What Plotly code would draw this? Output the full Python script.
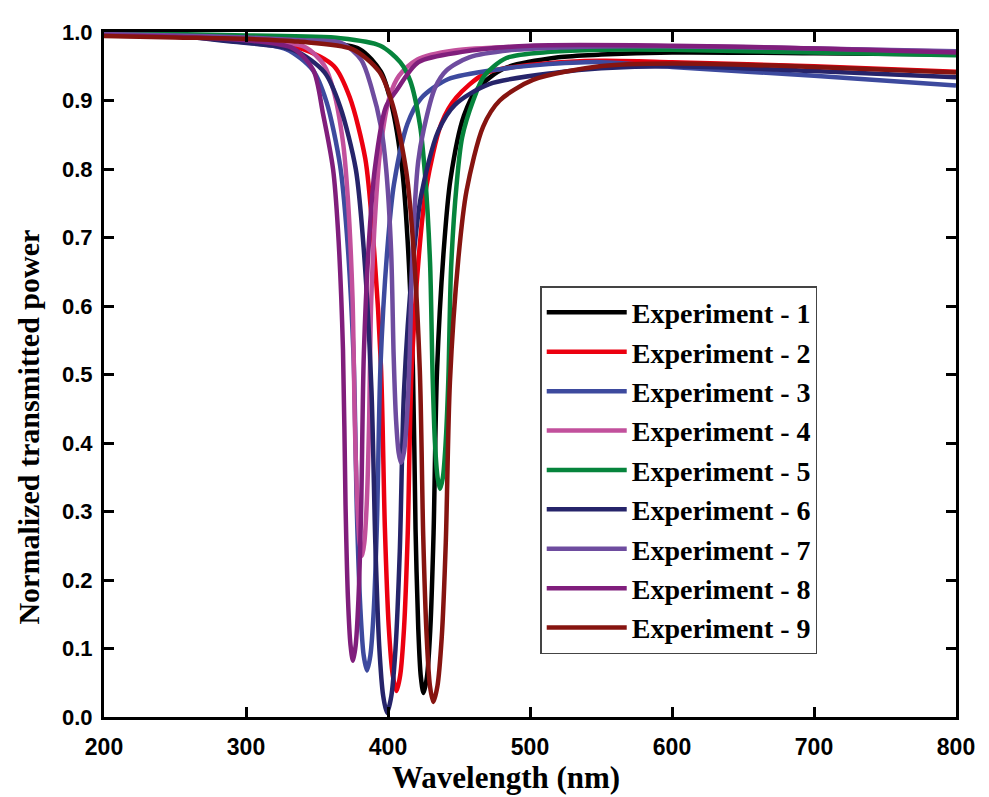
import plotly.graph_objects as go

# ---- data (wavelength in nm, normalized transmitted power) ----
exp1_wl = [200, 250, 300, 350, 380, 395, 402.5, 410, 413.8, 417.5, 419.4, 421.3, 423.1, 425, 427.4, 429.8, 432.1, 434.5, 439.3, 444, 453.5, 463, 482, 520, 550, 600, 700, 800]
exp1_tp = [0.996, 0.994, 0.991, 0.986, 0.975, 0.942, 0.894, 0.799, 0.696, 0.512, 0.274, 0.13, 0.059, 0.035, 0.058, 0.129, 0.269, 0.504, 0.683, 0.785, 0.878, 0.917, 0.947, 0.963, 0.967, 0.970, 0.969, 0.967]

exp2_wl = [200, 250, 296, 340, 362, 373, 384, 389.5, 395, 397.8, 400.5, 403.3, 406, 408.6, 411.3, 413.9, 416.5, 421.8, 427, 437.5, 448, 469, 511, 550, 600, 700, 800]
exp2_tp = [0.996, 0.994, 0.988, 0.975, 0.95, 0.905, 0.815, 0.70, 0.514, 0.276, 0.133, 0.062, 0.038, 0.061, 0.13, 0.268, 0.498, 0.675, 0.774, 0.866, 0.904, 0.94, 0.954, 0.958, 0.956, 0.95, 0.942]

exp3_wl = [200, 250, 290, 328.2, 347.2, 356.7, 366.2, 371, 375.7, 378.1, 380.5, 382.8, 385.2, 387.6, 390, 392.3, 394.7, 399.5, 404.2, 413.7, 423.2, 442.2, 480.2, 507, 550, 600, 700, 800]
exp3_tp = [0.996, 0.994, 0.987, 0.975, 0.944, 0.898, 0.806, 0.706, 0.529, 0.298, 0.16, 0.091, 0.068, 0.09, 0.157, 0.29, 0.512, 0.682, 0.778, 0.866, 0.903, 0.931, 0.946, 0.952, 0.956, 0.949, 0.936, 0.922]

exp4_wl = [200, 250, 314.7, 341.5, 354.9, 361.6, 368.3, 371.7, 375, 376.7, 378.4, 380, 381.7, 383.3, 385, 386.6, 388.2, 391.5, 394.7, 401.2, 407.7, 420.7, 446.7, 500, 600, 700, 800]
exp4_tp = [0.996, 0.994, 0.987, 0.978, 0.952, 0.915, 0.839, 0.758, 0.613, 0.424, 0.31, 0.254, 0.235, 0.254, 0.31, 0.421, 0.608, 0.751, 0.831, 0.906, 0.936, 0.96, 0.973, 0.979, 0.979, 0.976, 0.971]

exp5_wl = [200, 250, 300, 366.6, 394.6, 408.6, 415.6, 422.6, 426.1, 429.6, 431.4, 433.1, 434.9, 436.6, 438.6, 440.5, 442.5, 444.4, 448.3, 452.2, 460, 467.8, 483.4, 514.6, 550, 600, 700, 800]
exp5_tp = [0.998, 0.997, 0.995, 0.991, 0.98, 0.956, 0.929, 0.863, 0.791, 0.664, 0.499, 0.399, 0.35, 0.333, 0.349, 0.397, 0.493, 0.654, 0.777, 0.846, 0.90, 0.936, 0.962, 0.971, 0.974, 0.974, 0.970, 0.966]

exp6_wl = [200, 250, 289.3, 333.3, 355.3, 366.3, 377.3, 382.8, 388.3, 391.1, 393.8, 396.6, 399.3, 402.3, 405.3, 408.3, 411.3, 417.3, 423.3, 435.3, 447.3, 471.3, 519.3, 550, 600, 700, 800]
exp6_tp = [0.996, 0.994, 0.986, 0.974, 0.941, 0.891, 0.80, 0.686, 0.48, 0.252, 0.104, 0.031, 0.006, 0.03, 0.1, 0.242, 0.477, 0.658, 0.761, 0.855, 0.894, 0.924, 0.941, 0.947, 0.95, 0.943, 0.934]

exp7_wl = [200, 250, 300, 339.2, 367.2, 381.2, 388.2, 395.2, 398.7, 402.2, 404.0, 405.7, 407.5, 409.2, 411.2, 413.2, 415.2, 417.2, 421.2, 425.2, 433.2, 441.2, 457.2, 489.2, 550, 600, 700, 800]
exp7_tp = [0.997, 0.995, 0.992, 0.988, 0.984, 0.959, 0.92, 0.86, 0.80, 0.68, 0.526, 0.433, 0.386, 0.371, 0.386, 0.432, 0.523, 0.676, 0.81, 0.858, 0.919, 0.944, 0.963, 0.974, 0.979, 0.979, 0.976, 0.972]

exp8_wl = [200, 250, 305.3, 333.3, 347.3, 354.3, 361.3, 364.8, 368.3, 370.1, 371.8, 373.6, 375.3, 377.2, 379.2, 381.1, 383, 386.9, 390.7, 398.4, 406.1, 421.5, 452.3, 500, 600, 700, 800]
exp8_tp = [0.995, 0.993, 0.987, 0.976, 0.945, 0.88, 0.80, 0.71, 0.536, 0.309, 0.173, 0.105, 0.082, 0.104, 0.172, 0.306, 0.531, 0.704, 0.80, 0.89, 0.915, 0.956, 0.971, 0.98, 0.98, 0.976, 0.97]

exp9_wl = [200, 250, 300, 336.9, 374.9, 393.9, 403.4, 412.9, 417.7, 422.4, 424.8, 427.2, 429.5, 431.9, 434.8, 437.8, 440.7, 443.6, 449.5, 455.3, 467, 478.7, 502.1, 548.9, 600, 700, 800]
exp9_tp = [0.994, 0.992, 0.99, 0.986, 0.975, 0.942, 0.893, 0.796, 0.692, 0.506, 0.264, 0.119, 0.046, 0.022, 0.045, 0.115, 0.255, 0.489, 0.668, 0.768, 0.862, 0.90, 0.93, 0.95, 0.954, 0.949, 0.941]

series_names = ["Experiment - 1", "Experiment - 2", "Experiment - 3", "Experiment - 4", "Experiment - 5",
                "Experiment - 6", "Experiment - 7", "Experiment - 8", "Experiment - 9"]
series_x = [exp1_wl, exp2_wl, exp3_wl, exp4_wl, exp5_wl, exp6_wl, exp7_wl, exp8_wl, exp9_wl]
series_y = [exp1_tp, exp2_tp, exp3_tp, exp4_tp, exp5_tp, exp6_tp, exp7_tp, exp8_tp, exp9_tp]
colors = ["#000000", "#EC0010", "#3D4A9E", "#C2509C", "#06843C", "#26246A", "#6E4C9F", "#801E7C", "#861410"]

x_ticks = [200, 300, 400, 500, 600, 700, 800]
y_ticks = [0.0, 0.1, 0.2, 0.3, 0.4, 0.5, 0.6, 0.7, 0.8, 0.9, 1.0]

x_title = "Wavelength (nm)"
y_title = "Normalized transmitted power"

fig = go.Figure()
for name, xs, ys, c in zip(series_names, series_x, series_y, colors):
    fig.add_trace(go.Scatter(x=xs, y=ys, mode="lines", name=name,
                             line=dict(color=c, width=4.5, shape="spline", smoothing=0.8)))

serif = "Liberation Serif, Times New Roman, serif"
sans = "Liberation Sans, Arial, sans-serif"

fig.update_layout(
    width=981, height=789,
    margin=dict(l=96, r=33, t=17, b=80),
    paper_bgcolor="white", plot_bgcolor="white",
    showlegend=True,
    legend=dict(x=0.512, y=0.629, xanchor="left", yanchor="top",
                bgcolor="white", bordercolor="#444", borderwidth=1.5,
                itemwidth=80,
                font=dict(family=serif, size=28, color="black", weight="bold"),
                tracegroupgap=0),
    xaxis=dict(range=[200, 800], tickvals=x_ticks, ticktext=[str(v) for v in x_ticks],
               showgrid=False, zeroline=False,
               showline=True, linecolor="black", linewidth=3, mirror="ticks",
               ticks="inside", ticklen=10, tickwidth=3, tickcolor="black",
               ticklabelstandoff=7,
               tickfont=dict(family=sans, size=23, color="black", weight="bold")),
    yaxis=dict(range=[0, 1.0], tickvals=y_ticks, ticktext=[f"{v:.1f}" for v in y_ticks],
               showgrid=False, zeroline=False,
               showline=True, linecolor="black", linewidth=3, mirror="ticks",
               ticks="inside", ticklen=10, tickwidth=3, tickcolor="black",
               ticklabelstandoff=4,
               tickfont=dict(family=sans, size=22, color="black", weight="bold")),
    annotations=[
        dict(text=x_title, xref="paper", yref="paper", x=0.472, y=-0.088,
             xanchor="center", yanchor="middle", showarrow=False,
             font=dict(family=serif, size=31, color="black", weight="bold")),
        dict(text=y_title, xref="paper", yref="paper", x=-0.0885, y=0.4234,
             xanchor="center", yanchor="middle", showarrow=False, textangle=-90,
             font=dict(family=serif, size=30, color="black", weight="bold")),
    ],
)

fig.write_html("out.html")
